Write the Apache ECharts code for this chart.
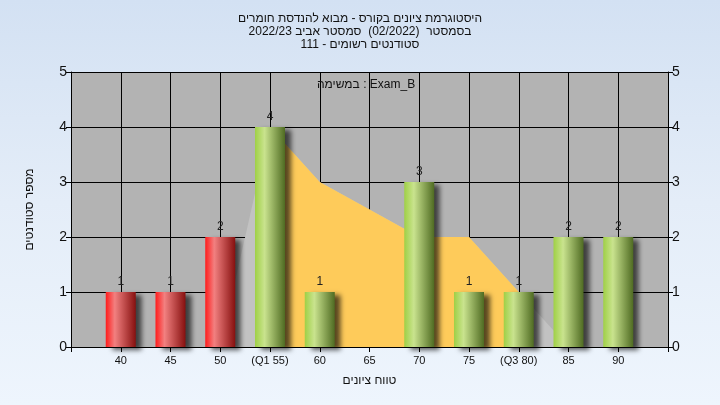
<!DOCTYPE html>
<html>
<head>
<meta charset="utf-8">
<script src="https://cdn.jsdelivr.net/npm/echarts@6/dist/echarts.min.js"></script>
<style>
html,body{margin:0;padding:0;}
#c{width:720px;height:405px;background:linear-gradient(180deg,#d3e1f3 0%,#e4edf8 50%,#eef5fd 100%);}
</style>
</head>
<body>
<div id="c"></div>
<script>
// ---- data ----
var categories = ['', '40', '45', '50', '(Q1 55)', '60', '65', '70', '75', '(Q3 80)', '85', '90', ''];
var counts =     [null, 1, 1, 2, 4, 1, null, 3, 1, 1, 2, 2, null];
var barGroup =   [null, 'low', 'low', 'low', 'ok', 'ok', null, 'ok', 'ok', 'ok', 'ok', 'ok', null];
var distFull =   [null, null, null, 0, 4, 3, 2.5, 2, 2, 1, 0, null, null];
var distIQR =    [null, null, null, null, 4, 3, 2.5, 2, 2, 1, null, null, null];
var yTicks = [0, 1, 2, 3, 4, 5];
var titleLines = ['היסטוגרמת ציונים בקורס - מבוא להנדסת חומרים', 'בסמסטר  (02/2022)  סמסטר אביב 2022/23', 'סטודנטים רשומים - 111'];
var legendText = 'במשימה : Exam_B';
var xName = 'טווח ציונים';
var yName = 'מספר סטודנטים';

var FONT = '"Liberation Sans", Arial, "DejaVu Sans", sans-serif';
var redGrad = new echarts.graphic.LinearGradient(0, 0, 1, 0, [
  {offset: 0, color: '#ff1c1c'}, {offset: 0.3, color: '#f28080'}, {offset: 1, color: '#86100f'}]);
var greenGrad = new echarts.graphic.LinearGradient(0, 0, 1, 0, [
  {offset: 0, color: '#9fd046'}, {offset: 0.32, color: '#c9e38e'}, {offset: 1, color: '#4f6b22'}]);

var barData = counts.map(function (v, i) {
  if (v === null) return null;
  return {value: v, itemStyle: {color: barGroup[i] === 'low' ? redGrad : greenGrad}};
});

var chart = echarts.init(document.getElementById('c'), null, {renderer: 'canvas'});
chart.setOption({
  backgroundColor: 'transparent',
  animation: false,
  title: {
    text: titleLines.join('\n'),
    left: 'center', top: 7,
    textStyle: {fontFamily: FONT, fontSize: 12, fontWeight: 'normal', color: '#111', lineHeight: 13}
  },
  graphic: [{
    type: 'text', left: 317, top: 79, z: 100,
    style: {text: legendText, font: '12px ' + FONT, fill: '#111'}
  }],
  grid: {left: 71, right: 52, top: 72, bottom: 58, show: true, backgroundColor: '#b3b3b3', borderWidth: 0},
  xAxis: {
    type: 'category', data: categories, boundaryGap: false,
    name: xName, nameLocation: 'middle', nameGap: 28,
    nameTextStyle: {fontFamily: FONT, fontSize: 12, color: '#111'},
    axisLine: {lineStyle: {color: '#000', width: 1}},
    axisTick: {show: true, alignWithLabel: true, length: 5, lineStyle: {color: '#000'}},
    axisLabel: {interval: 0, fontFamily: FONT, fontSize: 11, color: '#111', margin: 8},
    splitLine: {show: true, interval: 0, lineStyle: {color: '#000', width: 1}}
  },
  yAxis: [{
    type: 'value', min: 0, max: 5, interval: 1, position: 'left',
    name: yName, nameLocation: 'middle', nameGap: 35,
    nameTextStyle: {fontFamily: FONT, fontSize: 12, color: '#111'},
    axisLine: {show: true, lineStyle: {color: '#000'}},
    axisTick: {show: true, length: 5, lineStyle: {color: '#000'}},
    axisLabel: {fontFamily: FONT, fontSize: 14, color: '#111', margin: 4},
    splitLine: {show: true, lineStyle: {color: '#000', width: 1}}
  }, {
    type: 'value', min: 0, max: 5, interval: 1, position: 'right',
    axisLine: {show: true, lineStyle: {color: '#000'}},
    axisTick: {show: true, length: 5, lineStyle: {color: '#000'}},
    axisLabel: {fontFamily: FONT, fontSize: 14, color: '#111', margin: 4},
    splitLine: {show: false}
  }],
  series: [{
    type: 'line', data: distFull, symbol: 'none', z: 1,
    lineStyle: {width: 0}, areaStyle: {color: '#c2c2c2', opacity: 1}
  }, {
    type: 'line', data: distIQR, symbol: 'none', z: 2,
    lineStyle: {width: 0}, areaStyle: {color: '#fecb5a', opacity: 1}
  }, {
    type: 'bar', data: barData, barWidth: 30, z: 5,
    itemStyle: {shadowColor: 'rgba(0,0,0,0.65)', shadowBlur: 5, shadowOffsetX: 6, shadowOffsetY: 3},
    label: {show: true, position: 'top', distance: 4, fontFamily: FONT, fontSize: 12, color: '#222'}
  }]
});
</script>
</body>
</html>
